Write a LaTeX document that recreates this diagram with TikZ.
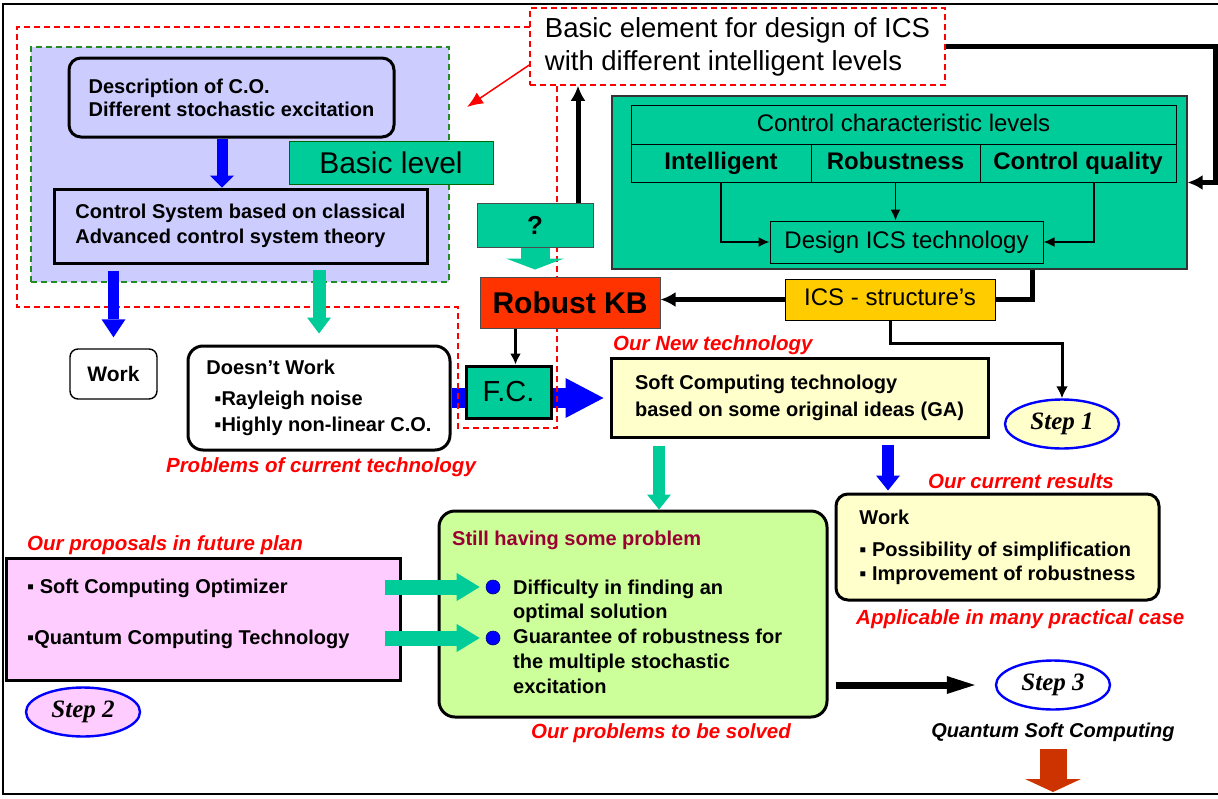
\documentclass[tikz,border=0pt]{standalone}
\usepackage{fontspec}
\setmainfont{Liberation Sans}
\newfontfamily\stepfont{Liberation Serif}
\usetikzlibrary{arrows.meta,shapes.geometric,backgrounds}

\definecolor{lavbg}{HTML}{CCCCFF}
\definecolor{icsgreen}{HTML}{00CC99}
\definecolor{kbred}{HTML}{FF3300}
\definecolor{icsyellow}{HTML}{FFCC00}
\definecolor{paleyellow}{HTML}{FFFFCC}
\definecolor{palegreen}{HTML}{CCFF99}
\definecolor{palepink}{HTML}{FFCCFF}
\definecolor{darkred}{HTML}{990033}
\definecolor{rustred}{HTML}{CC3300}
\definecolor{dashgreen}{HTML}{228B22}

\newcommand{\fsz}[2]{\fontsize{#1}{#2}\selectfont}

\tikzset{
  box/.style={draw, line width=3pt, inner sep=0pt},
  rbox/.style={box, rounded corners=12pt},
  cell/.style={draw, line width=1pt, inner sep=0pt, minimum height=38.5pt, text height=17pt, text depth=5pt},
  note/.style={anchor=base west, inner sep=0pt, text=red, font=\fsz{20.5}{24}\bfseries\itshape},
  stepnode/.style={ellipse, draw=blue, line width=2.4pt, inner sep=0pt,
    minimum width=114pt, minimum height=49pt, font=\stepfont\fsz{25}{30}\bfseries\itshape},
  dot/.style={circle, fill=blue, draw=blue!50!black, line width=0.6pt, inner sep=0pt, minimum size=14pt},
  fat/.style n args={3}{line width=#1, -{Triangle[width=#2, length=#3, line width=0pt]}},
  heavy/.style={line width=5pt, -{Latex[length=15pt, width=15pt]}},
  reddash/.style={draw=red, line width=1.5pt, dash pattern=on 6pt off 4pt}
}

\begin{document}
\begin{tikzpicture}[x=1pt, y=-1pt]
\useasboundingbox (0,0) rectangle (1218,798);

% frame
\draw[line width=1.8pt] (1218,4) -- (3,4) -- (3,794) -- (1218,794);

% basic level
\node[draw=dashgreen, line width=1.5pt, dash pattern=on 6pt off 4pt, fill=lavbg,
  minimum width=418pt, minimum height=235pt] (lvl) at (240,164.5) {};
\node[rbox, fill=lavbg, minimum width=325pt, minimum height=79pt, align=left,
  font=\fsz{20}{23}\bfseries] (desc) at (231.5,97.5) {Description of C.O.\\Different stochastic excitation};
\node[draw=green!40!black, line width=1pt, fill=icsgreen, minimum width=204pt, minimum height=43pt,
  font=\fsz{30}{36}] (basiclevel) at (391,162.5) {Basic level};
\node[box, fill=lavbg, minimum width=373pt, minimum height=74pt, align=left,
  font=\fsz{20}{25}\bfseries] (ctrl) at (240.5,226) {Control System based on classical\\Advanced control system theory};

% basic element
\node[reddash, fill=white, minimum width=415pt, minimum height=77pt, align=left,
  font=\fsz{27.5}{33}] (basicel) at (737.5,46.5) {Basic element for design of ICS\\with different intelligent levels};

% control characteristic levels
\node[draw=black!80, line width=1.2pt, fill=icsgreen, minimum width=575pt, minimum height=173pt] (ctrlchar) at (899.5,182.5) {};
\node[cell, minimum width=545pt, font=\fsz{24}{28}] (levels) at (903.5,125) {Control characteristic levels};
\node[cell, minimum width=180pt, font=\fsz{24}{28}\bfseries] (intel) at (721,163.5) {Intelligent};
\node[cell, minimum width=169pt, font=\fsz{24}{28}\bfseries] (robust) at (895.5,163.5) {Robustness};
\node[cell, minimum width=196pt, font=\fsz{24}{28}\bfseries] (quality) at (1078,163.5) {Control quality};
\node[cell, minimum width=273pt, minimum height=42pt, font=\fsz{24}{28}] (design) at (906.5,242) {Design ICS technology};
\node[draw, line width=1pt, inner sep=0pt, fill=icsyellow, minimum width=210pt, minimum height=41pt,
  text height=17pt, text depth=5pt, font=\fsz{24}{28}] (icsstruct) at (890,299.5) {ICS - structure's};

\node[draw=black!70, line width=1pt, fill=icsgreen, minimum width=116pt, minimum height=44pt,
  font=\fsz{26}{30}\bfseries] (qbox) at (535,225) {?};
\node[draw=black!70, line width=1pt, fill=kbred, minimum width=180pt, minimum height=51pt,
  font=\fsz{30}{36}\bfseries] (robkb) at (570,302.5) {Robust KB};

% current technology
\node[rbox, line width=1.4pt, rounded corners=8pt, fill=white, minimum width=87pt, minimum height=50pt,
  font=\fsz{21}{25}\bfseries] (work) at (113.5,374) {Work};
\node[rbox, rounded corners=15pt, fill=white, minimum width=262pt, minimum height=104pt, align=left,
  font=\fsz{20}{26}\bfseries] (doesnt) at (319,398)
  {Doesn't Work\\[5pt]\hspace*{8pt}▪Rayleigh noise\\\hspace*{8pt}▪Highly non-linear C.O.};
\node[note, anchor=base] (probcur) at (321,472) {Problems of current technology};
\node[box, fill=icsgreen, minimum width=85pt, minimum height=52pt, font=\fsz{29}{34}] (fc) at (508.5,392) {F.C.};

% new technology
\node[note] (newtech) at (613,350) {Our New technology};
\node[box, fill=paleyellow, minimum width=377pt, minimum height=79pt, align=left,
  font=\fsz{20}{27}\bfseries] (softc) at (799.5,397.5) {Soft Computing technology\\based on some original ideas (GA)};
\node[stepnode, fill=paleyellow] (step1) at (1062,424) {Step 1};

% results
\node[note] (curres) at (928,488) {Our current results};
\node[rbox, fill=paleyellow, minimum width=323pt, minimum height=106pt, align=left,
  font=\fsz{20}{24}\bfseries] (results) at (997.5,547)
  {Work\\[8pt]▪ Possibility of simplification\\▪ Improvement of robustness};
\node[note] (applic) at (856,624) {Applicable in many practical case};

% problems
\node[rbox, rounded corners=16pt, fill=palegreen, minimum width=388pt, minimum height=206pt] (still) at (633,614) {};
\node[anchor=base west, inner sep=0pt, text=darkred, font=\fsz{20}{24}\bfseries] (stillhead) at (452,545) {Still having some problem};
\node[anchor=north west, inner sep=0pt, align=left, font=\fsz{20}{24.75}\bfseries] (stillitems) at (513,579.5)
  {Difficulty in finding an\\optimal solution\\Guarantee of robustness for\\the multiple stochastic\\excitation};
\node[dot] (dot1) at (493,587) {};
\node[dot] (dot2) at (493,638) {};
\node[note, anchor=base] (tosolve) at (661,738) {Our problems to be solved};

% proposals
\node[note] (proposals) at (27,550) {Our proposals in future plan};
\node[box, fill=palepink, minimum width=394pt, minimum height=122pt] (prop) at (203,619) {};
\node[anchor=north west, inner sep=0pt, align=left, font=\fsz{20}{24}\bfseries] (propitems) at (27,578.5)
  {▪ Soft Computing Optimizer\\[27pt]▪Quantum Computing Technology};
\node[stepnode, fill=palepink] (step2) at (83,712) {Step 2};

% quantum
\node[stepnode, fill=white] (step3) at (1053,685) {Step 3};
\node[anchor=base, inner sep=0pt, font=\fsz{20}{24}\bfseries\itshape] (qsc) at (1053,737) {Quantum Soft Computing};
\coordinate (qscend) at (1053,792);
\coordinate (redtip) at (467,107);

% connectors
\begin{scope}[on background layer]
  \draw[fat={20pt}{40pt}{38pt}, draw=blue, shorten >=6pt] (doesnt.east) -- (softc.west |- doesnt.east);
  \draw[reddash] (530,27) -- (17,27) -- (17,307) -- (458,307) -- (458,428) -- (557,428) -- (557,85);
\end{scope}

\draw[red, line width=1.5pt, -{Latex[length=16pt, width=13pt]}] ([yshift=-18.5pt]basicel.west) -- (redtip);

\draw[fat={11pt}{24pt}{12pt}, draw=blue] ([xshift=-9.5pt]desc.south) -- ([xshift=-9.5pt]desc.south |- ctrl.north);
\draw[fat={11pt}{24pt}{18pt}, draw=blue, shorten <=6pt, shorten >=11pt] (work.north |- ctrl.south) -- (work.north);
\draw[fat={13pt}{24pt}{16pt}, draw=icsgreen, shorten <=5pt, shorten >=11pt] (doesnt.north |- ctrl.south) -- (doesnt.north);

\draw[heavy] ([xshift=43pt]qbox.north) -- ([xshift=43pt]qbox.north |- basicel.south);
\draw[fat={29pt}{58pt}{11pt}, draw=icsgreen, shorten >=7pt] (qbox.south) -- (qbox.south |- robkb.north);
\draw[heavy] (basicel.east) -- ++(270,0) |- (ctrlchar.east);

\draw[line width=1.8pt, -{Latex[length=11pt, width=10pt]}] (intel.south) |- (design.west);
\draw[line width=1.8pt, -{Latex[length=11pt, width=10pt]}] (robust.south) -- (robust.south |- design.north);
\draw[line width=1.8pt, -{Latex[length=11pt, width=10pt]}] ([xshift=16pt]quality.south) |- (design.east);

\draw[line width=5pt] ([xshift=132.5pt]ctrlchar.south) |- (icsstruct.east);
\draw[heavy] (icsstruct.west) -- (robkb.east |- icsstruct.west);
\draw[line width=3pt, -{Latex[length=12pt, width=12pt]}] (icsstruct.south) -- ++(0,23) -| (step1.north);
\draw[line width=3pt, -{Latex[length=11pt, width=11pt]}] ([xshift=7pt]fc.north |- robkb.south) -- ([xshift=7pt]fc.north);

\draw[fat={12pt}{24pt}{15pt}, draw=icsgreen, shorten <=7pt] ([xshift=-140.5pt]softc.south) -- ([xshift=-140.5pt]softc.south |- still.north);
\draw[fat={12pt}{24pt}{15pt}, draw=blue, shorten <=6pt, shorten >=2pt] ([xshift=88.5pt]softc.south) -- ([xshift=88.5pt]softc.south |- results.north);

\draw[fat={15pt}{28pt}{23pt}, draw=icsgreen, shorten >=6pt] ([xshift=-17pt]prop.east |- dot1) -- (dot1.west);
\draw[fat={15pt}{28pt}{23pt}, draw=icsgreen, shorten >=6pt] ([xshift=-17pt]prop.east |- dot2) -- (dot2.west);

\draw[fat={7pt}{18pt}{28pt}, draw=black, shorten <=7pt, shorten >=20pt] (still.east |- step3.west) -- (step3.west);
\draw[fat={27pt}{56pt}{13pt}, draw=rustred, shorten <=8pt] (qsc.south) -- (qscend);

\end{tikzpicture}
\end{document}
